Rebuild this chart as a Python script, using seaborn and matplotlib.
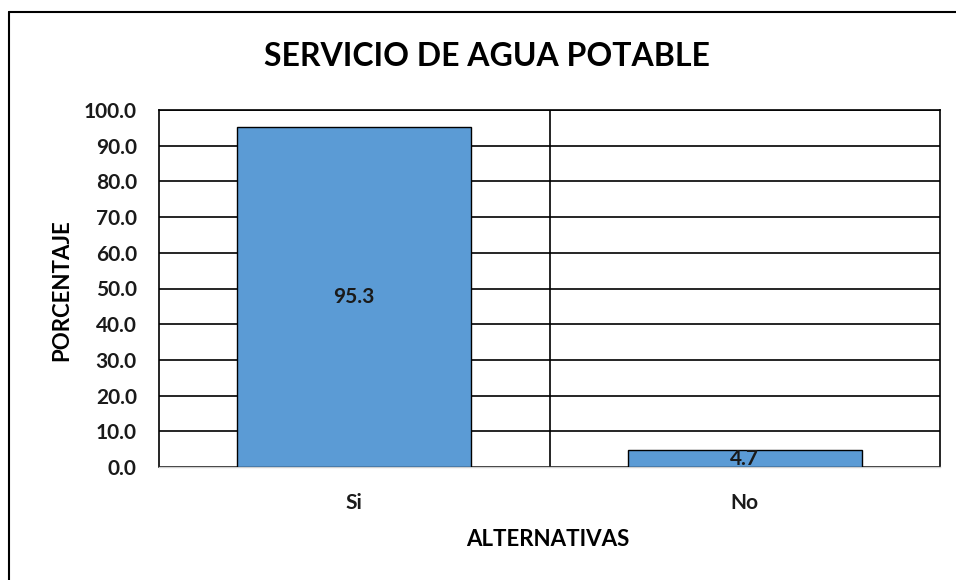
import matplotlib
matplotlib.use("Agg")
import matplotlib.pyplot as plt
import seaborn as sns
import pandas as pd
from matplotlib.lines import Line2D

# data
alternativas = ["Si", "No"]
porcentaje = [95.3, 4.7]
y_ticks = [0, 10, 20, 30, 40, 50, 60, 70, 80, 90, 100]

sns.set_theme(style="white")
plt.rcParams["font.family"] = ["Lato", "DejaVu Sans"]
plt.rcParams["font.weight"] = "bold"

df = pd.DataFrame({"alternativa": alternativas, "porcentaje": porcentaje})

fig = plt.figure(figsize=(9.56, 5.8), dpi=100)
ax = fig.add_axes([159 / 956, 1 - 467 / 580, (940 - 159) / 956, (467 - 110) / 580])

sns.barplot(data=df, x="alternativa", y="porcentaje", color="#5B9BD5",
            width=0.6, edgecolor="black", linewidth=1.0, saturation=1, ax=ax, zorder=3)

ax.set_ylim(0, 100)
ax.set_xlim(-0.5, 1.5)
ax.set_yticks(y_ticks)
ax.set_yticklabels([f"{v:.1f}" for v in y_ticks])
ax.grid(axis="y", color="black", linewidth=1.2, zorder=0)
ax.axvline(0.5, color="black", linewidth=1.2, zorder=0)
ax.set_axisbelow(True)

for side in ["left", "right", "top"]:
    ax.spines[side].set_color("black")
    ax.spines[side].set_linewidth(1.2)
ax.spines["bottom"].set_color("#d0d0d0")
ax.spines["bottom"].set_linewidth(1.0)

ax.tick_params(axis="y", length=0, pad=16, labelsize=15, colors="#1a1a1a")
ax.tick_params(axis="x", length=0, pad=19, labelsize=15, colors="#1a1a1a")
for lbl in ax.get_xticklabels() + ax.get_yticklabels():
    lbl.set_fontweight("bold")

ax.set_xlabel("")
ax.set_ylabel("")

for i, v in enumerate(porcentaje):
    ax.text(i, v / 2, f"{v:.1f}", ha="center", va="center",
            fontsize=15, fontweight="bold", color="#1a1a1a", zorder=5)

fig.text(487 / 956, 1 - 57 / 580, "SERVICIO DE AGUA POTABLE", ha="center", va="center",
         fontsize=23, fontweight="bold", color="black")
fig.text(62 / 956, 0.5, "PORCENTAJE", ha="center", va="center", rotation=90,
         fontsize=16, fontweight="bold", color="black")
fig.text(548 / 956, 1 - 540 / 580, "ALTERNATIVAS", ha="center", va="center",
         fontsize=16, fontweight="bold", color="black")

# chart frame, cut off at right and bottom in the screenshot
fig.add_artist(Line2D([8.5 / 956, 1], [1 - 12 / 580, 1 - 12 / 580], color="black", linewidth=1.5))
fig.add_artist(Line2D([8.5 / 956, 8.5 / 956], [0, 1 - 12 / 580], color="black", linewidth=1.5))

fig.savefig("out.png", dpi=100)
